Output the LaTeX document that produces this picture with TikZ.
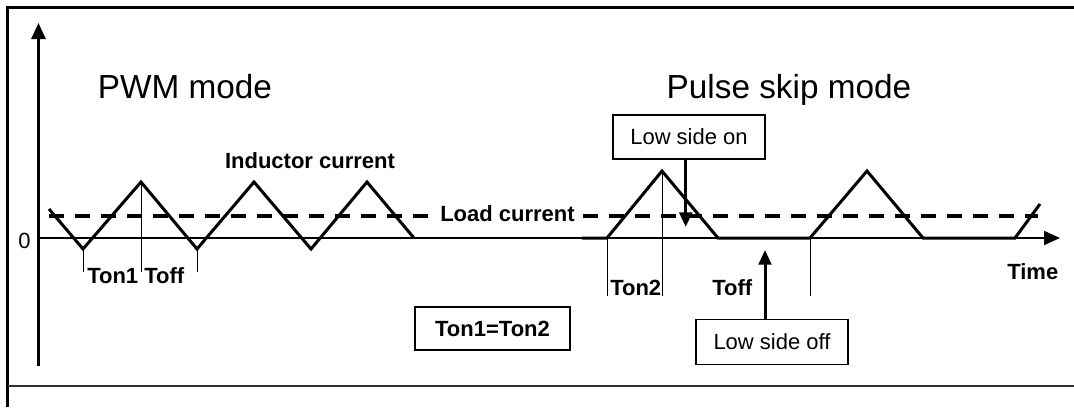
\documentclass[tikz,border=0pt]{standalone}
\usepackage{fontspec}
\setmainfont{Liberation Sans}
\usetikzlibrary{arrows.meta}

\tikzset{
  wave/.style={line width=2.25pt},
  axisline/.style={line width=2pt, -{Triangle[width=10.5pt,length=12pt]}},
  marker/.style={line width=0.75pt},
  loadline/.style={line width=3pt, dash pattern=on 11pt off 8.5pt},
  bold label/.style={font=\fontsize{16.5}{19}\selectfont\bfseries, inner sep=0pt},
  mode label/.style={font=\fontsize{25}{30}\selectfont, inner sep=0pt},
  callout/.style={draw, line width=1.1pt, minimum width=114pt, minimum height=33pt,
    inner sep=0pt, font=\fontsize{16.5}{19}\selectfont},
  pointer/.style={line width=2.25pt, -{Triangle[width=9.5pt,length=11pt]}},
}

\begin{document}
\begin{tikzpicture}[x=0.75pt, y=-0.75pt]
  \useasboundingbox (0,0) rectangle (1074,407);
  % frame
  \draw[line width=1.8pt] (7.5,407) -- (7.5,7.5) -- (1074,7.5);
  \draw[line width=1.2pt, black!80] (7.5,386) -- (1074,386);
  % axes
  \coordinate (origin) at (38.5,238);
  \coordinate (xend) at (1060,238);
  \draw[axisline] (38.5,366) -- (38.5,23);
  \draw[axisline, line width=1.6pt] (origin) -- (xend);
  \node[font=\fontsize{16.5}{19}\selectfont, inner sep=0pt] (zero) at (24.5,241) {0};
  \node[mode label, anchor=base] (pwm) at (185,98) {PWM mode};
  \node[mode label, anchor=base] (psm) at (789,98) {Pulse skip mode};
  % load current
  \node[bold label, anchor=base, inner xsep=6pt] (load) at (507.5,221.5) {Load current};
  \coordinate (lstart) at (49,215.5);
  \coordinate (lend) at (1038,215.5);
  \draw[loadline] (lstart) -- (lstart -| load.west);
  \draw[loadline] (load.east |- lend) -- (lend);
  % inductor current
  \node[bold label, anchor=base] (ind) at (310,168) {Inductor current};
  \draw[wave] (49,209) -- (83,249) -- (141,182) -- (197,249) -- (254,182)
    -- (311,249) -- (367,182) -- (414,238);
  \draw[wave] (582,238) -- (607,238) -- (662,171) -- (718,238) -- (810,238)
    -- (867,171) -- (923,238) -- (1015,238) -- (1040,204);
  % time marks
  \foreach \x/\y in {83/249, 141/182, 197/249}
    \draw[marker] (\x,\y) -- (\x,272);
  \foreach \x/\y in {607/238, 662/171, 810/238}
    \draw[marker] (\x,\y) -- (\x,296);
  \node[bold label, anchor=base west] (ton1) at (87,283) {Ton1};
  \node[bold label, anchor=base west] (toff1) at (144,283) {Toff};
  \node[bold label, anchor=base west] (ton2) at (610,295) {Ton2};
  \node[bold label, anchor=base west] (toff2) at (712,295) {Toff};
  \node[bold label, anchor=base west] (time) at (1007,279) {Time};
  % callouts
  \node[callout] (lson) at (689,137) {Low side on};
  \node[callout, minimum height=34pt] (lsoff) at (772,342) {Low side off};
  \node[callout, minimum width=116pt, minimum height=32pt,
    font=\fontsize{16.5}{19}\selectfont\bfseries] (teq) at (492.5,328.5) {Ton1=Ton2};
  \coordinate (ontip) at (685.7,227);
  \coordinate (offtip) at (765,250);
  \draw[pointer] (lson.south -| ontip) -- (ontip);
  \draw[pointer] (lsoff.north -| offtip) -- (offtip);
\end{tikzpicture}
\end{document}
